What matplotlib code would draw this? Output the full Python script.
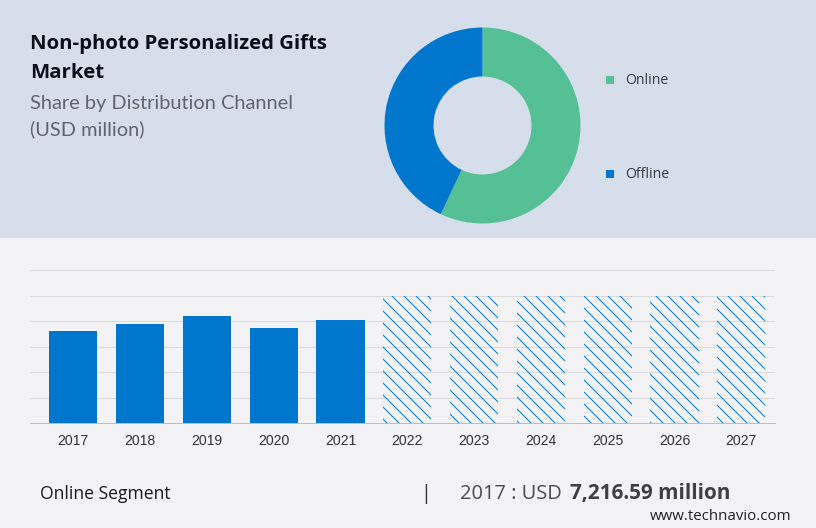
import matplotlib
matplotlib.use('Agg')
from matplotlib import pyplot as plt
from matplotlib.patches import Rectangle

W, H = 816, 528

channels = ['Online', 'Offline']
shares = [57, 43]
years = ['2017', '2018', '2019', '2020', '2021', '2022', '2023', '2024', '2025', '2026', '2027']
actual = [7216.59, 7770, 8400, 7460, 8090]
forecast = [10000, 10000, 10000, 10000, 10000, 10000]

GREEN = '#55bf95'
BLUE = '#0077cc'

plt.rcParams['font.family'] = ['Open Sans', 'DejaVu Sans']
plt.rcParams['hatch.linewidth'] = 1.0
plt.rcParams['hatch.color'] = BLUE

# dpi 72 so that one point is one pixel
fig = plt.figure(figsize=(W/72, H/72), dpi=72, facecolor='#f3f3f6')

def axes_px(x0, y0, x1, y1):
    # pixel box, y measured from the top
    return fig.add_axes([x0/W, 1-y1/H, (x1-x0)/W, (y1-y0)/H])

def text_px(x, y, s, **kw):
    fig.text(x/W, 1-y/H, s, va='center', **kw)

# header band, has to stay under the axes
fig.add_artist(Rectangle((0, 1-238/H), 1, 238/H, transform=fig.transFigure, color='#d5deea', lw=0, zorder=-1))

text_px(30, 43.5, 'Non-photo Personalized Gifts', fontsize=20.4, fontweight='bold', color='#0b0f1a')
text_px(30, 73.5, 'Market', fontsize=20.4, fontweight='bold', color='#0b0f1a')
text_px(30, 104, 'Share by Distribution Channel', fontsize=20, color='#5f656e', family=['Lato', 'DejaVu Sans'])
text_px(30, 129, '(USD million)', fontsize=20, color='#5f656e', family=['Lato', 'DejaVu Sans'])

# donut
ax = axes_px(382.5, 25.5, 582.5, 225.5)
ax.pie(shares, colors=[GREEN, BLUE], startangle=90, counterclock=False, radius=0.98,
       wedgeprops={'width': 0.49, 'linewidth': 0})
ax.set_xlim(-1, 1)
ax.set_ylim(-1, 1)

# legend
legend_ax = axes_px(0, 0, W, 238)
legend_ax.set_xlim(0, W)
legend_ax.set_ylim(238, 0)
legend_ax.axis('off')
legend_ax.scatter([610, 610], [80, 174], marker='s', s=50, c=[GREEN, BLUE], linewidths=0)
text_px(625, 80.5, channels[0], fontsize=14, color='#333a40')
text_px(625, 174.5, channels[1], fontsize=14, color='#333a40')

# bars
ax = axes_px(30, 270.3, 775, 423.3)
x_actual = range(len(actual))
x_forecast = range(len(actual), len(years))
ax.bar(x_actual, actual, width=0.72, color=BLUE, zorder=3)
ax.bar(x_forecast, forecast, width=0.72, facecolor='none', edgecolor=BLUE, hatch='\\\\', linewidth=0, zorder=3)
ax.set_xlim(-0.648, 10.505)
ax.set_ylim(0, 12000)
ax.set_yticks(range(0, 12001, 2000))
ax.set_yticklabels([])
ax.set_xticks(range(len(years)))
ax.set_xticklabels(years, fontsize=14, color='#333333', family=['Liberation Sans', 'DejaVu Sans'])
ax.tick_params(length=0)
ax.tick_params(axis='x', pad=11)
ax.grid(axis='y', color='#d8d9dd', linewidth=1)
ax.set_axisbelow(True)
ax.patch.set_alpha(0)
for side in ['top', 'left', 'right']:
    ax.spines[side].set_visible(False)
ax.spines['bottom'].set_color('#b0b1b5')

# footer
text_px(40, 494, 'Online Segment', fontsize=17.5, color='#1a1a1a')
text_px(420, 494, '|', fontsize=20, color='#333333')
text_px(460, 494, '2017 : USD', fontsize=20, color='#4a4a4a')
text_px(570, 494, '7,216.59 million', fontsize=20.8, fontweight='bold', color='#404040')
text_px(650, 517, 'www.technavio.com', fontsize=15, color='#222222')

fig.savefig('out.png', dpi=72, facecolor=fig.get_facecolor())
